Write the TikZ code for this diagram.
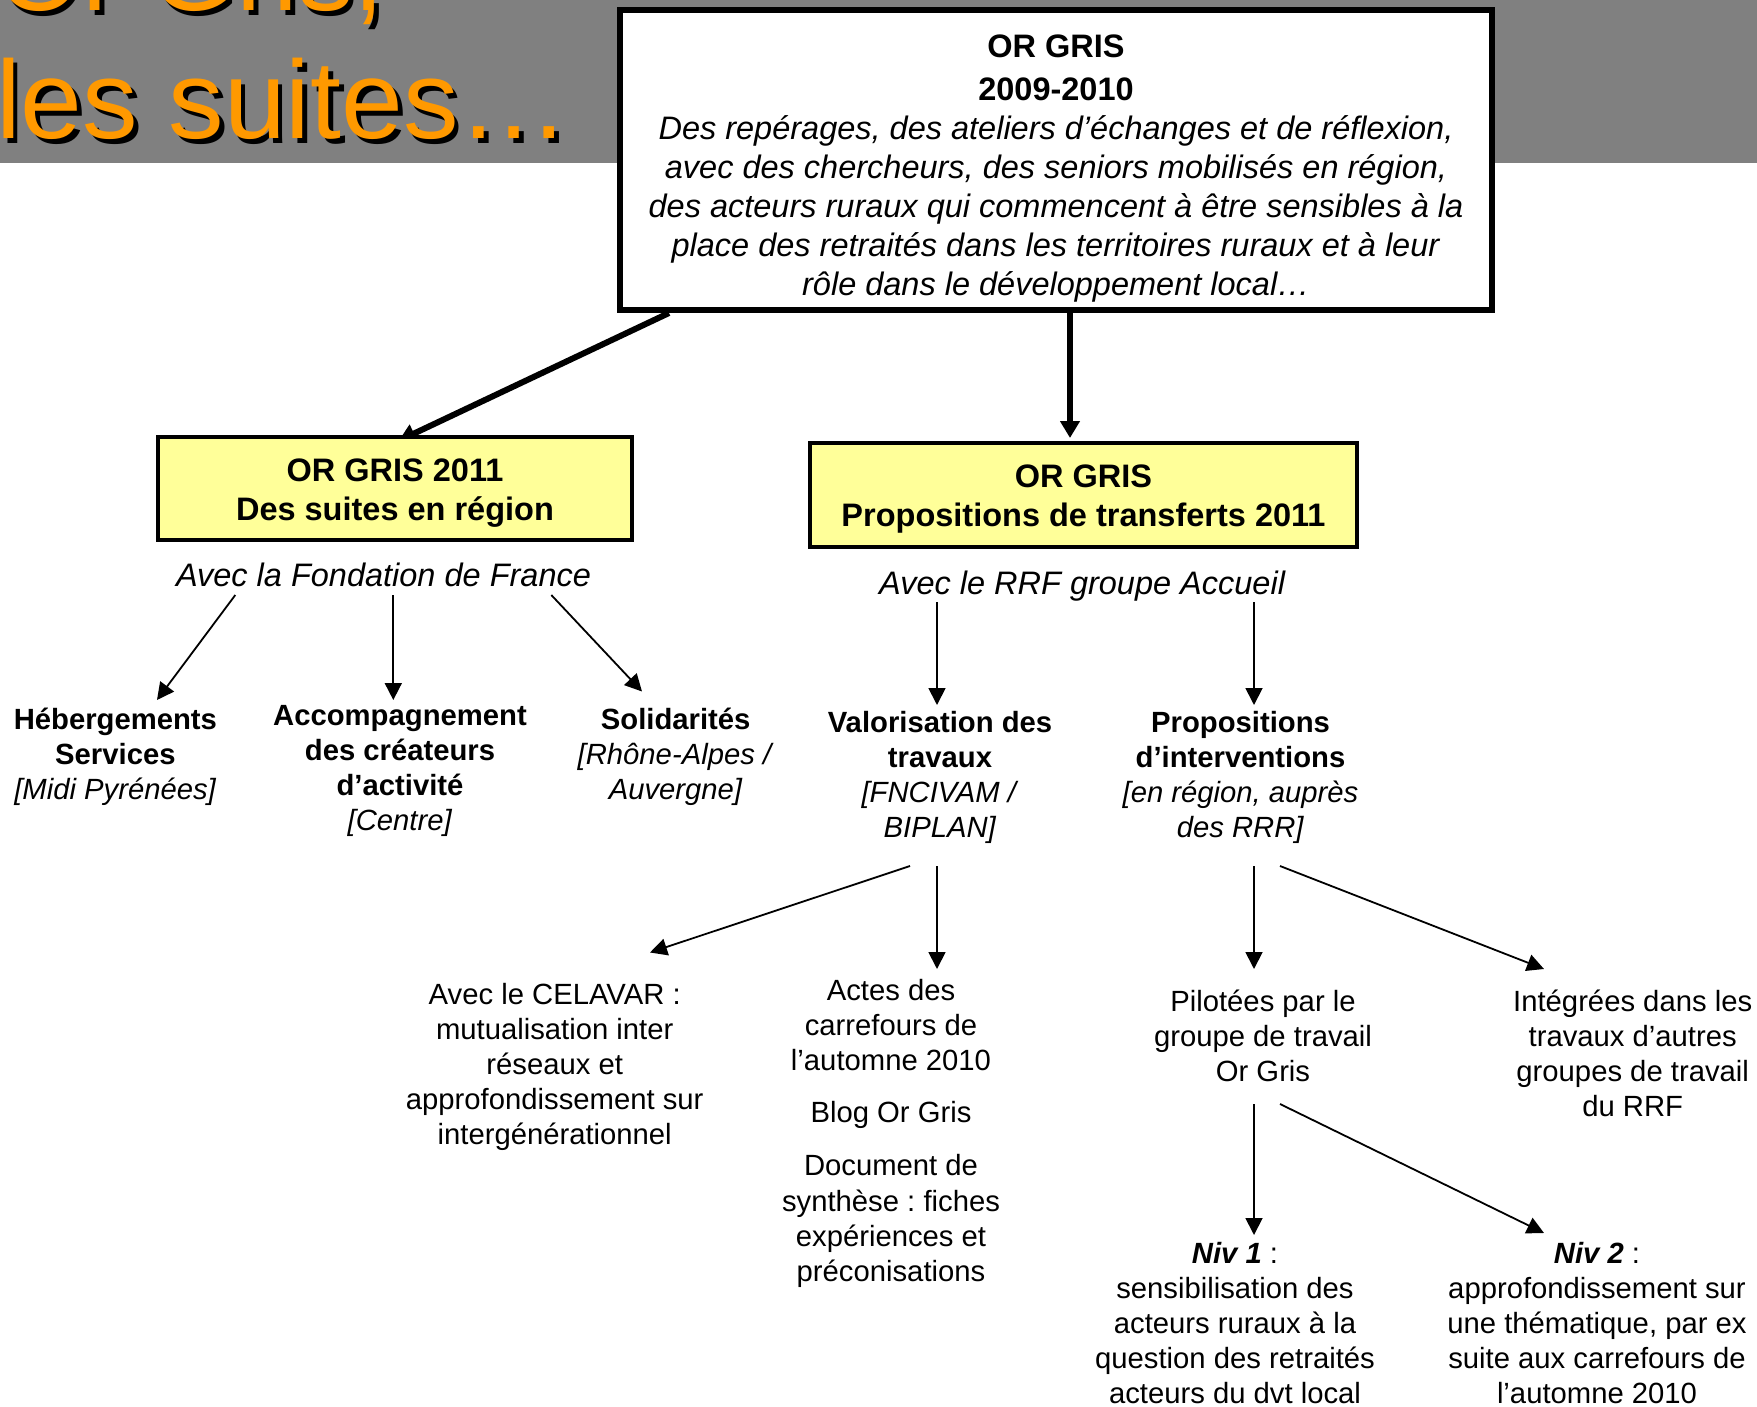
\documentclass[tikz,border=0pt]{standalone}
\usepackage{fontspec}
\setmainfont{Liberation Sans}
\usetikzlibrary{arrows.meta,calc,backgrounds}
\definecolor{bandgray}{HTML}{808080}
\definecolor{titleorange}{HTML}{FF9900}
\definecolor{boxyellow}{HTML}{FFFF99}
\frenchspacing
\tikzset{
  heavy/.style={line width=6pt,-{Triangle[length=17pt,width=19pt]}},
  fine/.style={line width=1.8pt,-{Triangle[length=17pt,width=17pt]}},
  leaf/.style={anchor=base,align=center,inner sep=0pt,font=\fontsize{29.25}{35.1}\selectfont},
  bigtext/.style={leaf,font=\fontsize{32.5}{39}\selectfont},
  yellowbox/.style={bigtext,draw,line width=4pt,fill=boxyellow,text height=83.7pt},
  titletext/.style={anchor=base west,align=left,inner sep=0pt,font=\fontsize{111}{127.5}\selectfont}
}
\begin{document}
\begin{tikzpicture}[x=1pt,y=-1pt]
\useasboundingbox (0,0) rectangle (1757,1407);
\clip (0,0) rectangle (1757,1407);
\node[titletext,text=black] (titleshadow) at (0.5,143.3) {Or Gris,\\les suites…};
\node[titletext,text=titleorange] (title) at (-4.2,138.3) {Or Gris,\\les suites…};
\node[bigtext,draw,line width=6pt,fill=white,minimum width=872pt,text height=285pt,text depth=15pt] (orgris) at (1056,295)
  {\textbf{OR GRIS}\\[3.5pt]\textbf{2009-2010}\\
   \textit{Des repérages, des ateliers d’échanges et de réflexion,}\\
   \textit{avec des chercheurs, des seniors mobilisés en région,}\\
   \textit{des acteurs ruraux qui commencent à être sensibles à la}\\
   \textit{place des retraités dans les territoires ruraux et à leur}\\
   \textit{rôle dans le développement local…}};
\node[yellowbox,minimum width=474pt,text depth=19.3pt] (suites) at (395,520.7) {\textbf{OR GRIS 2011}\\\textbf{Des suites en région}};
\node[yellowbox,minimum width=547pt,text depth=20.3pt] (transf) at (1083.5,526.7) {\textbf{OR GRIS}\\\textbf{Propositions de transferts 2011}};
\node[bigtext] (fdf) at (383.5,586.6) {\textit{Avec la Fondation de France}};
\node[bigtext] (rrf) at (1082.5,594) {\textit{Avec le RRF groupe Accueil}};
\node[leaf] (heb) at (115.4,799.2) {\textbf{Hébergements}\\\textbf{Services}\\\textit{[Midi Pyrénées]}};
\node[leaf] (acc) at (400,830.8) {\textbf{Accompagnement}\\\textbf{des créateurs}\\\textbf{d’activité}\\\textit{[Centre]}};
\node[leaf] (sol) at (675.7,799.2) {\textbf{Solidarités}\\\textit{[Rhône-Alpes /}\\\textit{Auvergne]}};
\node[leaf] (valo) at (940,837.5) {\textbf{Valorisation des}\\\textbf{travaux}\\\textit{[FNCIVAM /}\\\textit{BIPLAN]}};
\node[leaf] (interv) at (1240.5,837.5) {\textbf{Propositions}\\\textbf{d’interventions}\\\textit{[en région, auprès}\\\textit{des RRR]}};
\node[leaf] (celavar) at (554.7,1144.9) {Avec le CELAVAR :\\mutualisation inter\\réseaux et\\approfondissement sur\\intergénérationnel};
\node[leaf] (actes) at (891,1281.2) {Actes des\\carrefours de\\l’automne 2010\\[17pt]Blog Or Gris\\[18.5pt]Document de\\synthèse : fiches\\expériences et\\préconisations};
\node[leaf] (pilot) at (1263,1081.4) {Pilotées par le\\groupe de travail\\Or Gris};
\node[leaf] (integ) at (1632.7,1116.5) {Intégrées dans les\\travaux d’autres\\groupes de travail\\du RRF};
\node[leaf] (niv1) at (1235,1403.7) {\textbf{\textit{Niv 1}} :\\sensibilisation des\\acteurs ruraux à la\\question des retraités\\acteurs du dvt local};
\node[leaf] (niv2) at (1597,1403.7) {\textbf{\textit{Niv 2}} :\\approfondissement sur\\une thématique, par ex\\suite aux carrefours de\\l’automne 2010};
\begin{scope}[on background layer]
\fill[bandgray] (0,0) rectangle (1757,163);
\draw[heavy] ($(orgris.south west)+(52,0)$) -- ($(suites.north)+(3.6,5.8)$);
\draw[heavy] ($(orgris.south)+(14,0)$) -- ($(transf.north)+(-13.5,-3)$);
\draw[fine] ($(fdf.base)+(-148.2,8.4)$) -- ($(heb.base)+(41.6,-99.2)$);
\draw[fine] ($(fdf.base)+(9.8,8.4)$) -- ($(acc.base)+(-6.7,-130.8)$);
\draw[fine] ($(fdf.base)+(167.8,8.4)$) -- ($(sol.base)+(-33.7,-107.7)$);
\draw[fine] ($(rrf.base)+(-145.5,8)$) -- ($(valo.base)+(-3,-132.5)$);
\draw[fine] ($(rrf.base)+(171.5,8)$) -- ($(interv.base)+(13.5,-132.5)$);
\draw[fine] ($(valo.base)+(-30,28.5)$) -- ($(celavar.base)+(95.3,-192.4)$);
\draw[fine] ($(valo.base)+(-3,28.5)$) -- ($(actes.base)+(46,-312.2)$);
\draw[fine] ($(interv.base)+(13.5,28.5)$) -- ($(pilot.base)+(-9,-112.4)$);
\draw[fine] ($(interv.base)+(39.5,28.5)$) -- ($(integ.base)+(-88.7,-147.5)$);
\draw[fine] ($(pilot.base)+(-9,22.6)$) -- ($(niv1.base)+(19,-168.7)$);
\draw[fine] ($(pilot.base)+(17,22.6)$) -- ($(niv2.base)+(-53,-170.7)$);
\end{scope}
\end{tikzpicture}
\end{document}
